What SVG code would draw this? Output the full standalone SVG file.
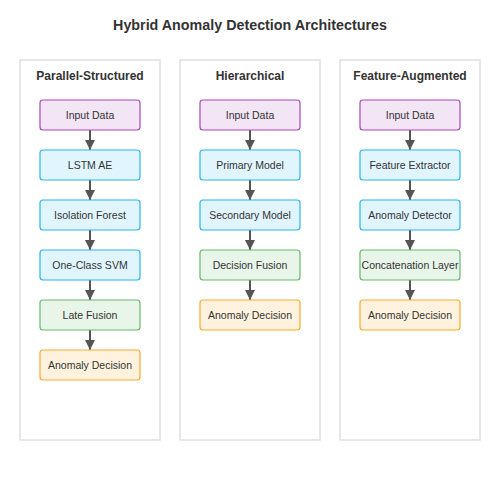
<svg xmlns="http://www.w3.org/2000/svg" width="500" height="500" viewBox="0 0 500 500">
<defs>
<marker id="arr" viewBox="0 0 10 10" refX="10" refY="5" markerWidth="5" markerHeight="5" orient="auto">
<path d="M0,0 L10,5 L0,10 z" fill="#555"/>
</marker>
<style>
text{font-family:"Liberation Sans",Arial,sans-serif;fill:#333;text-anchor:middle}
.title{font-size:14.3px;font-weight:bold}
.ptitle{font-size:12px;font-weight:bold}
.lbl{font-size:10.5px}
.panel{fill:#fff;stroke:#e0e0e0;stroke-width:1.5}
.n{stroke-width:1.2}
.in{fill:#f3e5f5;stroke:#ab47bc}
.md{fill:#e1f5fe;stroke:#29b6f6}
.fu{fill:#e8f5e9;stroke:#66bb6a}
.out{fill:#fff3e0;stroke:#ffa726}
.c{stroke:#555;stroke-width:2;fill:none;marker-end:url(#arr)}
</style>
</defs>
<rect width="500" height="500" fill="#fff"/>
<text class="title" x="250" y="30">Hybrid Anomaly Detection Architectures</text>
<g id="panel-parallel">
<rect class="panel" x="20" y="60" width="140" height="380"/>
<text class="ptitle" x="90" y="80">Parallel-Structured</text>
</g>
<g id="panel-hierarchical">
<rect class="panel" x="180" y="60" width="140" height="380"/>
<text class="ptitle" x="250" y="80">Hierarchical</text>
</g>
<g id="panel-feature">
<rect class="panel" x="340" y="60" width="140" height="380"/>
<text class="ptitle" x="410" y="80">Feature-Augmented</text>
</g>
<g id="connectors">
<line class="c" x1="90" y1="130" x2="90" y2="150"/>
<line class="c" x1="90" y1="180" x2="90" y2="200"/>
<line class="c" x1="90" y1="230" x2="90" y2="250"/>
<line class="c" x1="90" y1="280" x2="90" y2="300"/>
<line class="c" x1="90" y1="330" x2="90" y2="350"/>
<line class="c" x1="250" y1="130" x2="250" y2="150"/>
<line class="c" x1="250" y1="180" x2="250" y2="200"/>
<line class="c" x1="250" y1="230" x2="250" y2="250"/>
<line class="c" x1="250" y1="280" x2="250" y2="300"/>
<line class="c" x1="410" y1="130" x2="410" y2="150"/>
<line class="c" x1="410" y1="180" x2="410" y2="200"/>
<line class="c" x1="410" y1="230" x2="410" y2="250"/>
<line class="c" x1="410" y1="280" x2="410" y2="300"/>
</g>
<g id="p-input"><rect class="n in" x="40" y="100" width="100" height="30" rx="3"/><text class="lbl" x="90" y="119">Input Data</text></g>
<g id="p-lstm"><rect class="n md" x="40" y="150" width="100" height="30" rx="3"/><text class="lbl" x="90" y="169">LSTM AE</text></g>
<g id="p-iforest"><rect class="n md" x="40" y="200" width="100" height="30" rx="3"/><text class="lbl" x="90" y="219">Isolation Forest</text></g>
<g id="p-ocsvm"><rect class="n md" x="40" y="250" width="100" height="30" rx="3"/><text class="lbl" x="90" y="269">One-Class SVM</text></g>
<g id="p-fusion"><rect class="n fu" x="40" y="300" width="100" height="30" rx="3"/><text class="lbl" x="90" y="319">Late Fusion</text></g>
<g id="p-decision"><rect class="n out" x="40" y="350" width="100" height="30" rx="3"/><text class="lbl" x="90" y="369">Anomaly Decision</text></g>
<g id="h-input"><rect class="n in" x="200" y="100" width="100" height="30" rx="3"/><text class="lbl" x="250" y="119">Input Data</text></g>
<g id="h-primary"><rect class="n md" x="200" y="150" width="100" height="30" rx="3"/><text class="lbl" x="250" y="169">Primary Model</text></g>
<g id="h-secondary"><rect class="n md" x="200" y="200" width="100" height="30" rx="3"/><text class="lbl" x="250" y="219">Secondary Model</text></g>
<g id="h-fusion"><rect class="n fu" x="200" y="250" width="100" height="30" rx="3"/><text class="lbl" x="250" y="269">Decision Fusion</text></g>
<g id="h-decision"><rect class="n out" x="200" y="300" width="100" height="30" rx="3"/><text class="lbl" x="250" y="319">Anomaly Decision</text></g>
<g id="f-input"><rect class="n in" x="360" y="100" width="100" height="30" rx="3"/><text class="lbl" x="410" y="119">Input Data</text></g>
<g id="f-extractor"><rect class="n md" x="360" y="150" width="100" height="30" rx="3"/><text class="lbl" x="410" y="169">Feature Extractor</text></g>
<g id="f-detector"><rect class="n md" x="360" y="200" width="100" height="30" rx="3"/><text class="lbl" x="410" y="219">Anomaly Detector</text></g>
<g id="f-concat"><rect class="n fu" x="360" y="250" width="100" height="30" rx="3"/><text class="lbl" x="410" y="269">Concatenation Layer</text></g>
<g id="f-decision"><rect class="n out" x="360" y="300" width="100" height="30" rx="3"/><text class="lbl" x="410" y="319">Anomaly Decision</text></g>
</svg>
